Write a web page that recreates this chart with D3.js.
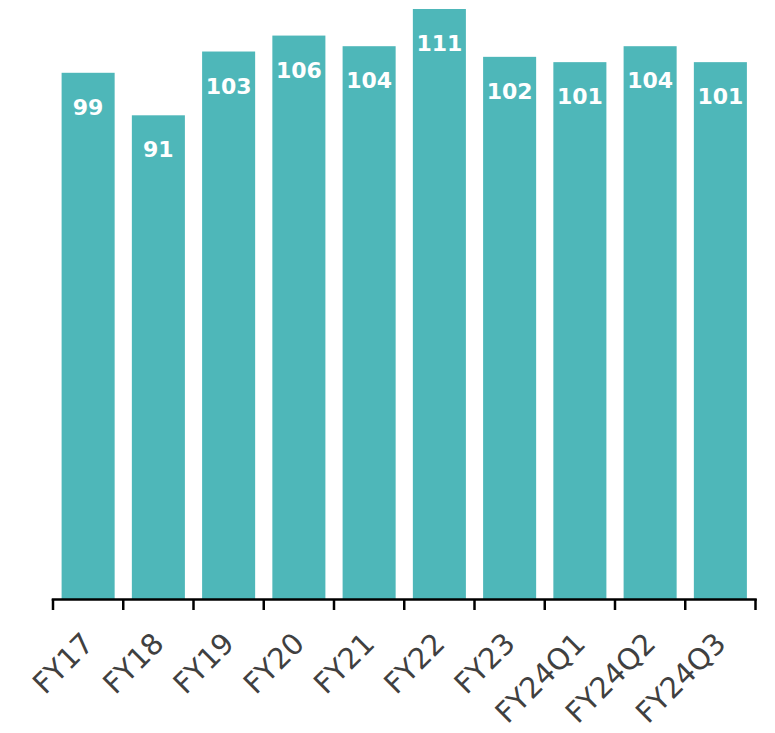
<!DOCTYPE html>
<html>
<head>
<meta charset="utf-8">
<script src="https://cdn.jsdelivr.net/npm/d3@7"></script>
<style>
  html, body { margin: 0; padding: 0; background: #fff; }
  svg { display: block; }
</style>
</head>
<body>
<div id="chart"></div>
<script>
// Periods and their index values
const categories = ["FY17", "FY18", "FY19", "FY20", "FY21", "FY22", "FY23", "FY24Q1", "FY24Q2", "FY24Q3"];
const values = [99, 91, 103, 106, 104, 111, 102, 101, 104, 101];

const width = 775, height = 733;
const plotLeft = 53, plotRight = 755.5, plotBottom = 599, plotTop = 9;
const barColor = "#4EB7B9";
const valueFont = "Verdana, 'DejaVu Sans', sans-serif";
const axisFont = "Verdana, 'DejaVu Sans', sans-serif";

const svg = d3.select("#chart").append("svg")
  .attr("width", width)
  .attr("height", height);

const pad = 0.245;
const x = d3.scaleBand()
  .domain(categories)
  .range([plotLeft, plotRight])
  .paddingInner(pad)
  .paddingOuter(pad / 2);

const y = d3.scaleLinear()
  .domain([0, d3.max(values)])
  .range([plotBottom, plotTop]);

const data = categories.map((c, i) => ({ cat: c, val: values[i] }));

// Bars
svg.append("g").selectAll("rect")
  .data(data)
  .join("rect")
  .attr("x", d => x(d.cat))
  .attr("y", d => y(d.val))
  .attr("width", x.bandwidth())
  .attr("height", d => y(0) - y(d.val))
  .attr("fill", barColor);

// Value labels inside the top of each bar
svg.append("g").selectAll("text")
  .data(data)
  .join("text")
  .attr("x", d => x(d.cat) + x.bandwidth() / 2)
  .attr("y", d => y(d.val) + 42)
  .attr("text-anchor", "middle")
  .attr("fill", "#fff")
  .attr("font-family", valueFont)
  .attr("font-weight", "bold")
  .attr("font-size", 22)
  .text(d => d.val);

// Category axis: baseline with ticks at the band boundaries
const step = x.step();
const boundaries = d3.range(categories.length + 1).map(i => plotLeft + i * step);
const axis = svg.append("g");
axis.append("line")
  .attr("x1", plotLeft - 1.25).attr("x2", plotRight + 1.25)
  .attr("y1", plotBottom + 0.5).attr("y2", plotBottom + 0.5)
  .attr("stroke", "#000").attr("stroke-width", 2.5);
axis.selectAll("line.tick")
  .data(boundaries)
  .join("line")
  .attr("class", "tick")
  .attr("x1", d => d).attr("x2", d => d)
  .attr("y1", plotBottom).attr("y2", plotBottom + 11)
  .attr("stroke", "#000").attr("stroke-width", 2.5);

// Rotated category labels, right end centred under each bar
axis.selectAll("text")
  .data(categories)
  .join("text")
  .attr("transform", d => `translate(${x(d) + x.bandwidth() / 2},638) rotate(-45)`)
  .attr("text-anchor", "end")
  .attr("dy", "0.35em")
  .attr("fill", "#404040")
  .attr("font-family", axisFont)
  .attr("font-size", 29)
  .text(d => d);
</script>
</body>
</html>
